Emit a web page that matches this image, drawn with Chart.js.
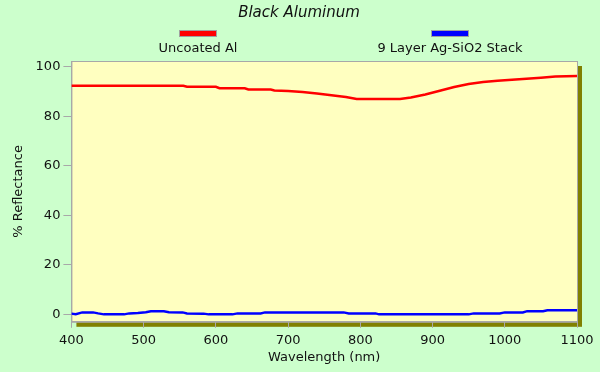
<!DOCTYPE html>
<html>
<head>
<meta charset="utf-8">
<script src="https://cdn.jsdelivr.net/npm/chart.js@4.4.1/dist/chart.umd.min.js"></script>
<style>
  html, body { margin: 0; padding: 0; background: #ccffcc; }
  #wrap { width: 600px; height: 372px; position: relative; }
</style>
</head>
<body>
<div id="wrap"><canvas id="chart"></canvas></div>
<script>
// Reflectance (%) vs wavelength (nm)
const uncoatedWl = [400, 555, 560, 600, 605, 640, 645, 676, 681, 700, 720, 740, 760, 780, 795,
    855, 870, 890, 910, 930, 950, 970, 990, 1010, 1030, 1050, 1070, 1100];
const uncoatedR = [92.3, 92.3, 91.9, 91.9, 91.3, 91.3, 90.8, 90.8, 90.4, 90.2, 89.8, 89.2, 88.5, 87.8, 87.0,
    87.0, 87.6, 88.8, 90.3, 91.8, 93.0, 93.8, 94.3, 94.7, 95.1, 95.5, 96.0, 96.2];

const stackWl = [400, 406, 415, 430, 437, 445, 473, 480, 492, 503, 510, 528, 535, 554, 560, 583, 590,
    623, 630, 662, 668, 777, 784, 821, 826, 950, 957, 993, 1000, 1025, 1031, 1053, 1059, 1100];
const stackR = [0.3, 0.1, 0.8, 0.8, 0.4, 0.0, 0.0, 0.4, 0.6, 0.9, 1.3, 1.3, 0.9, 0.8, 0.4, 0.3, 0.0,
    0.0, 0.4, 0.4, 0.8, 0.8, 0.4, 0.4, 0.0, 0.0, 0.4, 0.4, 0.8, 0.8, 1.3, 1.3, 1.7, 1.7];

const xTicks = [400, 500, 600, 700, 800, 900, 1000, 1100];
const yTicks = [0, 20, 40, 60, 80, 100];

const chartTitle = 'Black Aluminum';
const seriesNames = ['Uncoated Al', '9 Layer Ag-SiO2 Stack'];
const seriesColors = ['#ff0000', '#0000ff'];

const FONT = '"DejaVu Sans", Verdana, sans-serif';
const TEXT = '#111111';
const AXIS = '#a8a8a8';

function pairs(xs, ys) {
    return xs.map((x, i) => ({ x: x, y: ys[i] }));
}

// olive drop shadow + yellow plot background
const plotBackground = {
    id: 'plotBackground',
    beforeDraw(chart) {
        const { ctx, chartArea: a } = chart;
        ctx.save();
        ctx.fillStyle = '#808000';
        ctx.fillRect(a.left + 5, a.top + 5, a.right - a.left, a.bottom - a.top);
        ctx.fillStyle = '#ffffc0';
        ctx.fillRect(a.left, a.top, a.right - a.left, a.bottom - a.top);
        ctx.strokeStyle = AXIS;
        ctx.lineWidth = 1;
        ctx.strokeRect(a.left + 0.5, a.top + 0.5, a.right - a.left, a.bottom - a.top);
        ctx.restore();
    }
};

// title + legend (swatch above the label, two centred columns)
const headerBlock = {
    id: 'headerBlock',
    afterDraw(chart) {
        const ctx = chart.ctx;
        const centers = [198, 450];
        ctx.save();
        ctx.textAlign = 'center';
        ctx.textBaseline = 'middle';
        ctx.fillStyle = TEXT;
        ctx.font = 'italic 15px ' + FONT;
        ctx.fillText(chartTitle, 299, 13);
        ctx.font = '13px ' + FONT;
        seriesNames.forEach((name, i) => {
            const cx = centers[i];
            ctx.fillStyle = seriesColors[i];
            ctx.fillRect(cx - 18, 31, 36, 5);
            ctx.strokeStyle = '#a0a0a0';
            ctx.lineWidth = 1;
            ctx.strokeRect(cx - 18.5, 30.5, 37, 6);
            ctx.fillStyle = TEXT;
            ctx.fillText(name, cx, 49);
        });
        ctx.restore();
    }
};

new Chart(document.getElementById('chart'), {
    type: 'line',
    data: {
        datasets: [
            {
                label: seriesNames[0],
                data: pairs(uncoatedWl, uncoatedR),
                borderColor: seriesColors[0],
                borderWidth: 2.5,
                pointRadius: 0,
                tension: 0,
                fill: false
            },
            {
                label: seriesNames[1],
                data: pairs(stackWl, stackR),
                borderColor: seriesColors[1],
                borderWidth: 2.5,
                pointRadius: 0,
                tension: 0,
                fill: false
            }
        ]
    },
    options: {
        responsive: true,
        maintainAspectRatio: false,
        animation: false,
        layout: { padding: { left: 11, right: 23, top: 61, bottom: 7 } },
        plugins: {
            legend: { display: false },
            tooltip: { enabled: false },
            title: { display: false }
        },
        scales: {
            x: {
                type: 'linear',
                min: 400,
                max: 1100,
                afterBuildTicks(axis) {
                    axis.ticks = xTicks.map((v) => ({ value: v }));
                },
                ticks: {
                    color: TEXT,
                    font: { family: FONT, size: 13 },
                    padding: 5,
                    maxRotation: 0,
                    callback: (v) => String(v)
                },
                grid: {
                    drawOnChartArea: false,
                    drawTicks: true,
                    tickLength: 6,
                    color: AXIS
                },
                border: { color: AXIS },
                title: {
                    display: true,
                    text: 'Wavelength (nm)',
                    color: TEXT,
                    font: { family: FONT, size: 13 },
                    padding: { top: -4, bottom: 0 }
                }
            },
            y: {
                min: -3,
                max: 102.3,
                afterBuildTicks(axis) {
                    axis.ticks = yTicks.map((v) => ({ value: v }));
                },
                ticks: {
                    color: TEXT,
                    font: { family: FONT, size: 13 },
                    padding: 3
                },
                grid: {
                    drawOnChartArea: false,
                    drawTicks: true,
                    tickLength: 8,
                    color: AXIS
                },
                border: { color: AXIS },
                title: {
                    display: true,
                    text: '% Reflectance',
                    color: TEXT,
                    font: { family: FONT, size: 13 },
                    padding: { top: 0, bottom: 6 }
                }
            }
        }
    },
    plugins: [plotBackground, headerBlock]
});
</script>
</body>
</html>
